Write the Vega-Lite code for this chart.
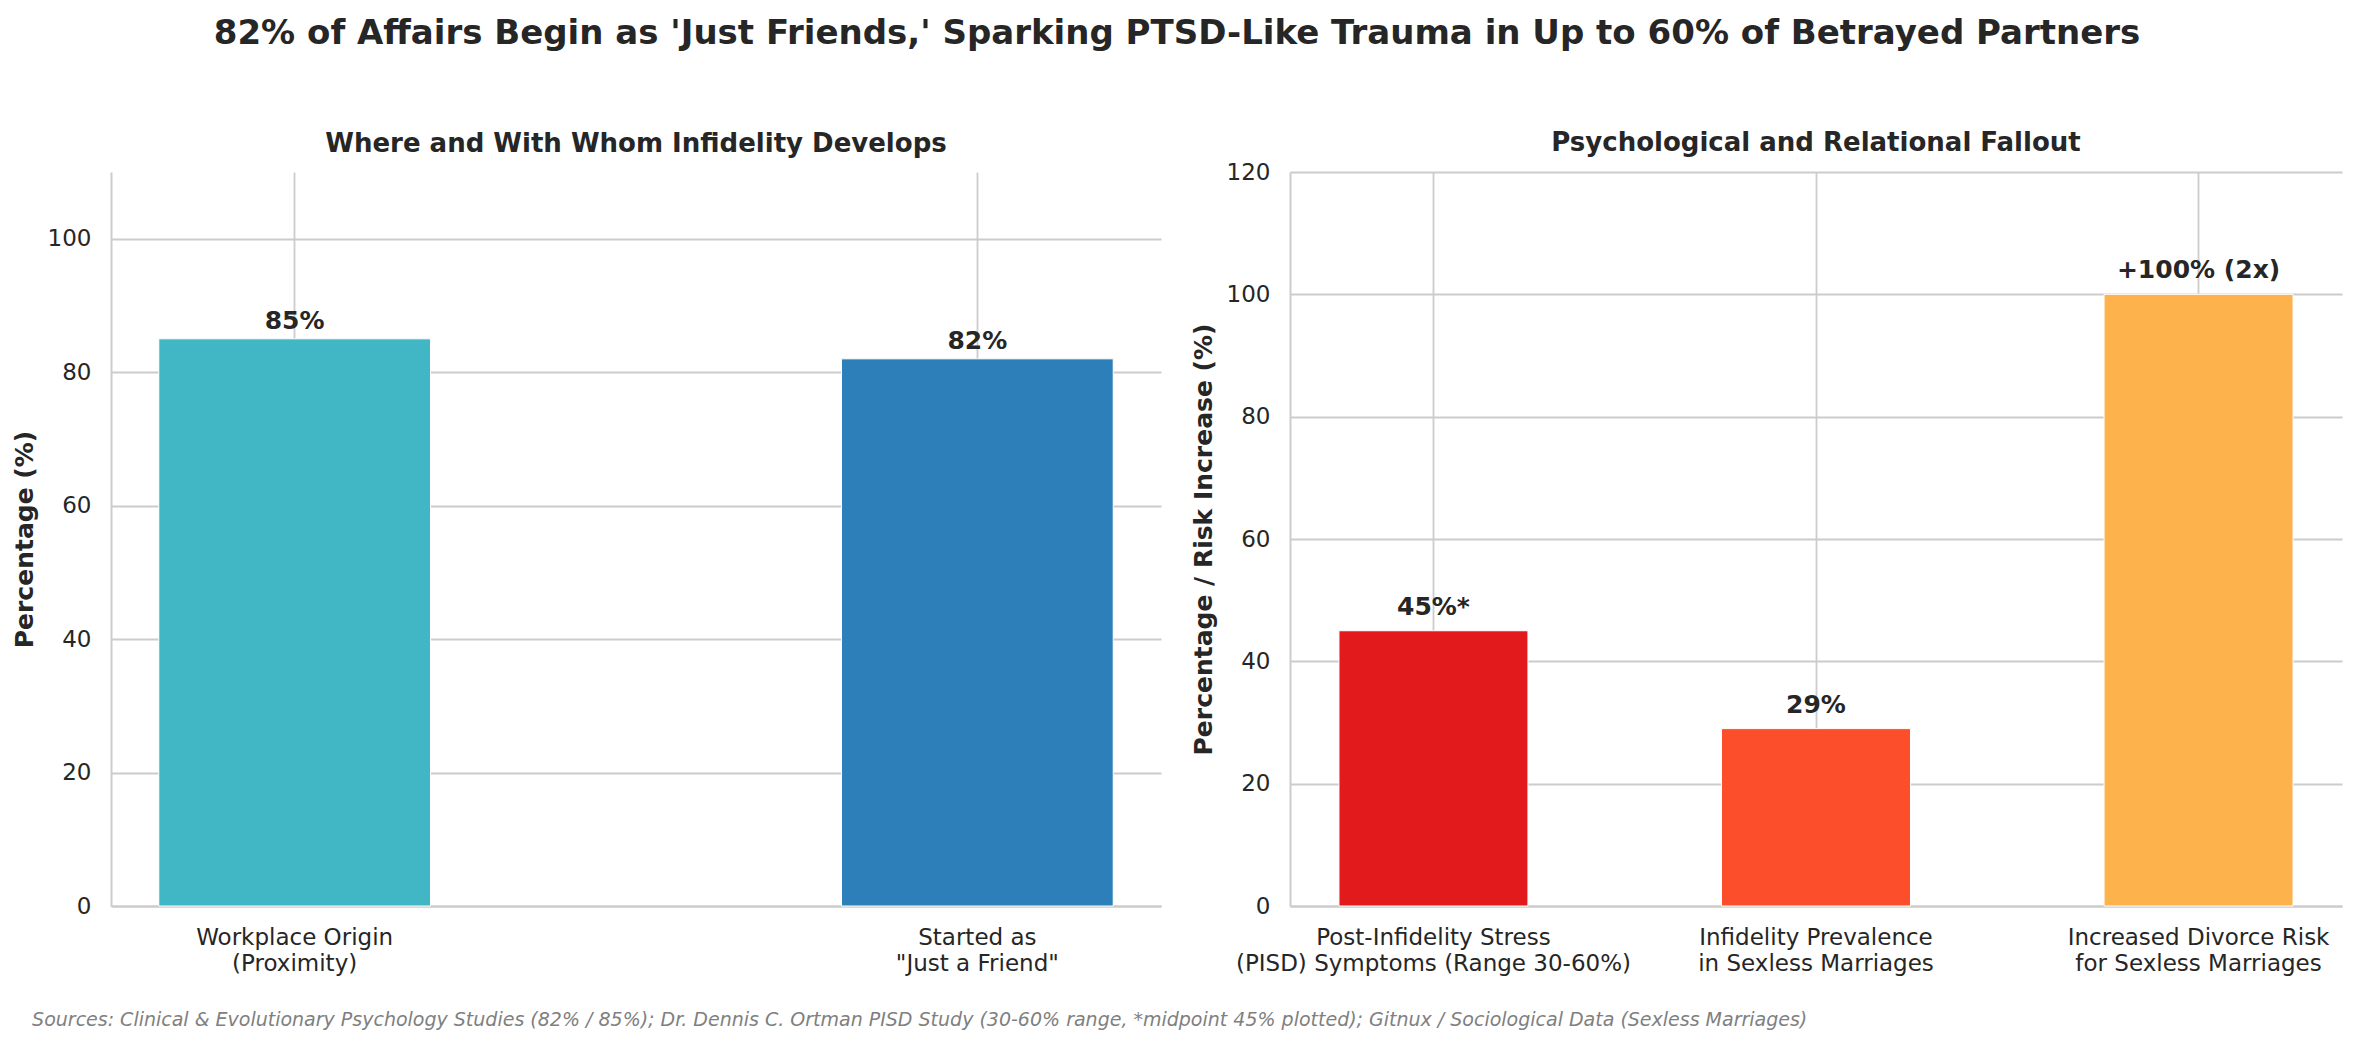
{
  "$schema": "https://vega.github.io/schema/vega-lite/v6.json",
  "background": "white",
  "padding": {"left": 12, "top": 17, "right": 20, "bottom": 10},
  "title": {
    "text": "82% of Affairs Begin as 'Just Friends,' Sparking PTSD-Like Trauma in Up to 60% of Betrayed Partners",
    "fontSize": 34, "fontWeight": "bold", "color": "#262626", "anchor": "middle", "offset": 79
  },
  "datasets": {
    "origins": [
      {"category": "Workplace Origin\n(Proximity)", "value": 85, "label": "85%"},
      {"category": "Started as\n\"Just a Friend\"", "value": 82, "label": "82%"}
    ],
    "fallout": [
      {"category": "Post-Infidelity Stress\n(PISD) Symptoms (Range 30-60%)", "value": 45, "label": "45%*"},
      {"category": "Infidelity Prevalence\nin Sexless Marriages", "value": 29, "label": "29%"},
      {"category": "Increased Divorce Risk\nfor Sexless Marriages", "value": 100, "label": "+100% (2x)"}
    ]
  },
  "vconcat": [
    {
      "title": {
        "text": "Sources: Clinical & Evolutionary Psychology Studies (82% / 85%); Dr. Dennis C. Ortman PISD Study (30-60% range, *midpoint 45% plotted); Gitnux / Sociological Data (Sexless Marriages)",
        "orient": "bottom", "anchor": "start", "fontSize": 19, "fontStyle": "italic", "fontWeight": "normal",
        "color": "#808080", "offset": 36, "dx": 20
      },
      "spacing": 30,
      "resolve": {"scale": {"x": "independent", "y": "independent", "color": "independent"}},
      "hconcat": [
        {
          "width": 1050,
          "height": 734,
          "title": {"text": "Where and With Whom Infidelity Develops", "fontSize": 26, "fontWeight": "bold", "color": "#262626", "offset": 15},
          "data": {"name": "origins"},
          "encoding": {
            "x": {
              "field": "category", "type": "nominal", "sort": null,
              "scale": {"paddingInner": 0.602, "paddingOuter": 0.07},
              "axis": {"title": null, "labelAngle": 0, "grid": true, "labelExpr": "split(datum.value, '\\n')"}
            },
            "y": {
              "field": "value", "type": "quantitative",
              "scale": {"domain": [0, 110]},
              "axis": {"title": "Percentage (%)", "values": [0, 20, 40, 60, 80, 100]}
            }
          },
          "layer": [
            {
              "mark": {"type": "bar", "stroke": "white", "strokeWidth": 1},
              "encoding": {
                "color": {
                  "field": "category", "type": "nominal", "legend": null,
                  "scale": {"domain": ["Workplace Origin\n(Proximity)", "Started as\n\"Just a Friend\""], "range": ["#41b6c4", "#2c7fb8"]}
                }
              }
            },
            {
              "mark": {"type": "text", "baseline": "alphabetic", "dy": -10, "fontSize": 25, "fontWeight": "bold", "color": "#262626"},
              "encoding": {"text": {"field": "label"}}
            }
          ]
        },
        {
          "width": 1052,
          "height": 734,
          "title": {"text": "Psychological and Relational Fallout", "fontSize": 26, "fontWeight": "bold", "color": "#262626", "offset": 5},
          "data": {"name": "fallout"},
          "encoding": {
            "x": {
              "field": "category", "type": "nominal", "sort": null,
              "scale": {"paddingInner": 0.506, "paddingOuter": 0.128},
              "axis": {"title": null, "labelAngle": 0, "grid": true, "labelExpr": "split(datum.value, '\\n')"}
            },
            "y": {
              "field": "value", "type": "quantitative",
              "scale": {"domain": [0, 120]},
              "axis": {"title": "Percentage / Risk Increase (%)", "values": [0, 20, 40, 60, 80, 100, 120]}
            }
          },
          "layer": [
            {
              "mark": {"type": "bar", "stroke": "white", "strokeWidth": 1},
              "encoding": {
                "color": {
                  "field": "category", "type": "nominal", "legend": null,
                  "scale": {
                    "domain": ["Post-Infidelity Stress\n(PISD) Symptoms (Range 30-60%)", "Infidelity Prevalence\nin Sexless Marriages", "Increased Divorce Risk\nfor Sexless Marriages"],
                    "range": ["#e31a1c", "#fc4e2a", "#feb24c"]
                  }
                }
              }
            },
            {
              "mark": {"type": "text", "baseline": "alphabetic", "dy": -16, "fontSize": 25, "fontWeight": "bold", "color": "#262626"},
              "encoding": {"text": {"field": "label"}}
            }
          ]
        }
      ]
    }
  ],
  "config": {
    "font": "DejaVu Sans",
    "view": {"stroke": null},
    "axis": {
      "labelFontSize": 23, "labelColor": "#262626", "labelFont": "DejaVu Sans", "labelLimit": 0,
      "titleFontSize": 25, "titleFontWeight": "bold", "titleColor": "#262626", "titleFont": "DejaVu Sans",
      "gridColor": "#cccccc", "gridWidth": 1.8, "domainColor": "#cccccc", "domainWidth": 2, "ticks": false
    },
    "axisY": {"labelPadding": 20, "titlePadding": 10},
    "axisX": {"labelPadding": 20, "labelLineHeight": 26}
  }
}
